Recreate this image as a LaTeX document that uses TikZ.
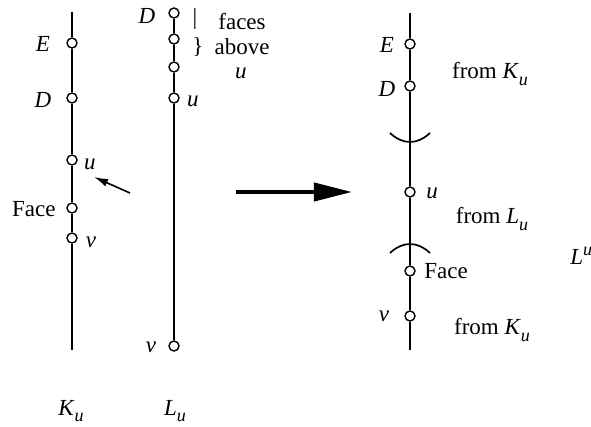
\documentclass[tikz,border=0pt]{standalone}
\usepackage{fontspec}
\setmainfont{Liberation Serif}
\usetikzlibrary{arrows.meta}

\newcommand{\vsub}[2]{\textit{#1}\raisebox{-0.6ex}{\small\textit{#2}}}
\newcommand{\vsup}[2]{\textit{#1}\raisebox{0.8ex}{\small\textit{#2}}}

\begin{document}
\begin{tikzpicture}[x=0.5pt, y=-0.5pt,
		every node/.style={font=\fontsize{11.5}{13}\selectfont},
		vtx/.style={draw, circle, fill=white, minimum size=5pt, inner sep=0pt, line width=0.7pt},
		path_line/.style={line width=0.85pt},
		ptr_arrow/.style={-{Latex[length=7pt, width=4pt]}, line width=0.8pt},
		big_arrow/.style={-{Triangle[length=19pt, width=9pt]}, line width=2pt},
		lbl/.style={inner sep=0pt}
		]
		\useasboundingbox (0,0) rectangle (591,427);
		
		% Left: K_u
		\coordinate (k_top) at (72,12);
		\coordinate (k_bot) at (72,350);
		\node[vtx] (k_e) at (72,43) {};
		\node[vtx] (k_d) at (72,98) {};
		\node[vtx] (k_u) at (72,160) {};
		\node[vtx] (k_face) at (72,208) {};
		\node[vtx] (k_v) at (72,238) {};
		\draw[path_line] (k_top) -- (k_e) -- (k_d) -- (k_u) -- (k_face) -- (k_v) -- (k_bot);
		\node[lbl] at (43,44) {\textit{E}};
		\node[lbl] at (43,100) {\textit{D}};
		\node[lbl] at (90,164) {\textit{u}};
		\node[lbl, anchor=east] at (56,209) {Face};
		\node[lbl] at (91,242) {\textit{v}};
		\node[lbl] (k_name) at (71,411) {\vsub{K}{u}};
		
		\coordinate (ptr_tail) at (130,193);
		\coordinate (ptr_head) at (94,177);
		\draw[ptr_arrow] (ptr_tail) -- (ptr_head);
		
		% Middle: L_u
		\node[vtx] (l_d) at (174,13) {};
		\node[vtx] (l_f1) at (174,39) {};
		\node[vtx] (l_f2) at (174,67) {};
		\node[vtx] (l_u) at (174,98) {};
		\node[vtx] (l_v) at (174,346) {};
		\draw[path_line] (l_d) -- (l_f1) -- (l_f2) -- (l_u) -- (l_v);
		\node[lbl] at (147,16) {\textit{D}};
		\node[lbl] at (193,101) {\textit{u}};
		\node[lbl] at (151,347) {\textit{v}};
		\node[lbl] at (195,19) {|};
		\node[lbl] at (198,47) {\}};
		\node[lbl] at (242,22) {faces};
		\node[lbl] at (242,47) {above};
		\node[lbl] at (241,73) {\textit{u}};
		\node[lbl] (l_name) at (175,411) {\vsub{L}{u}};
		
		% Mapping arrow
		\coordinate (big_tail) at (236,192);
		\coordinate (big_head) at (352,192);
		\draw[big_arrow] (big_tail) -- (big_head);
		
		% Right: L^u
		\coordinate (r_top) at (410,13);
		\coordinate (r_bot) at (410,350);
		\node[vtx] (r_e) at (410,44) {};
		\node[vtx] (r_d) at (410,86) {};
		\node[vtx] (r_u) at (410,192) {};
		\node[vtx] (r_face) at (410,271) {};
		\node[vtx] (r_v) at (410,316) {};
		\draw[path_line] (r_top) -- (r_e) -- (r_d) -- (r_u) -- (r_face) -- (r_v) -- (r_bot);
		\draw[path_line] (390,133) .. controls (403,145) and (417,145) .. (430,133);
		\draw[path_line] (390,253) .. controls (403,241) and (417,241) .. (430,253);
		\node[lbl] at (387,45) {\textit{E}};
		\node[lbl] at (387,89) {\textit{D}};
		\node[lbl] at (432,193) {\textit{u}};
		\node[lbl] at (446,271) {Face};
		\node[lbl] at (384,316) {\textit{v}};
		\node[lbl] at (490,74) {from \vsub{K}{u}};
		\node[lbl] at (492,219) {from \vsub{L}{u}};
		\node[lbl] at (492,330) {from \vsub{K}{u}};
		\node[lbl, anchor=west] (r_name) at (570,256) {\vsup{L}{u}};
		
	\end{tikzpicture}
\end{document}
